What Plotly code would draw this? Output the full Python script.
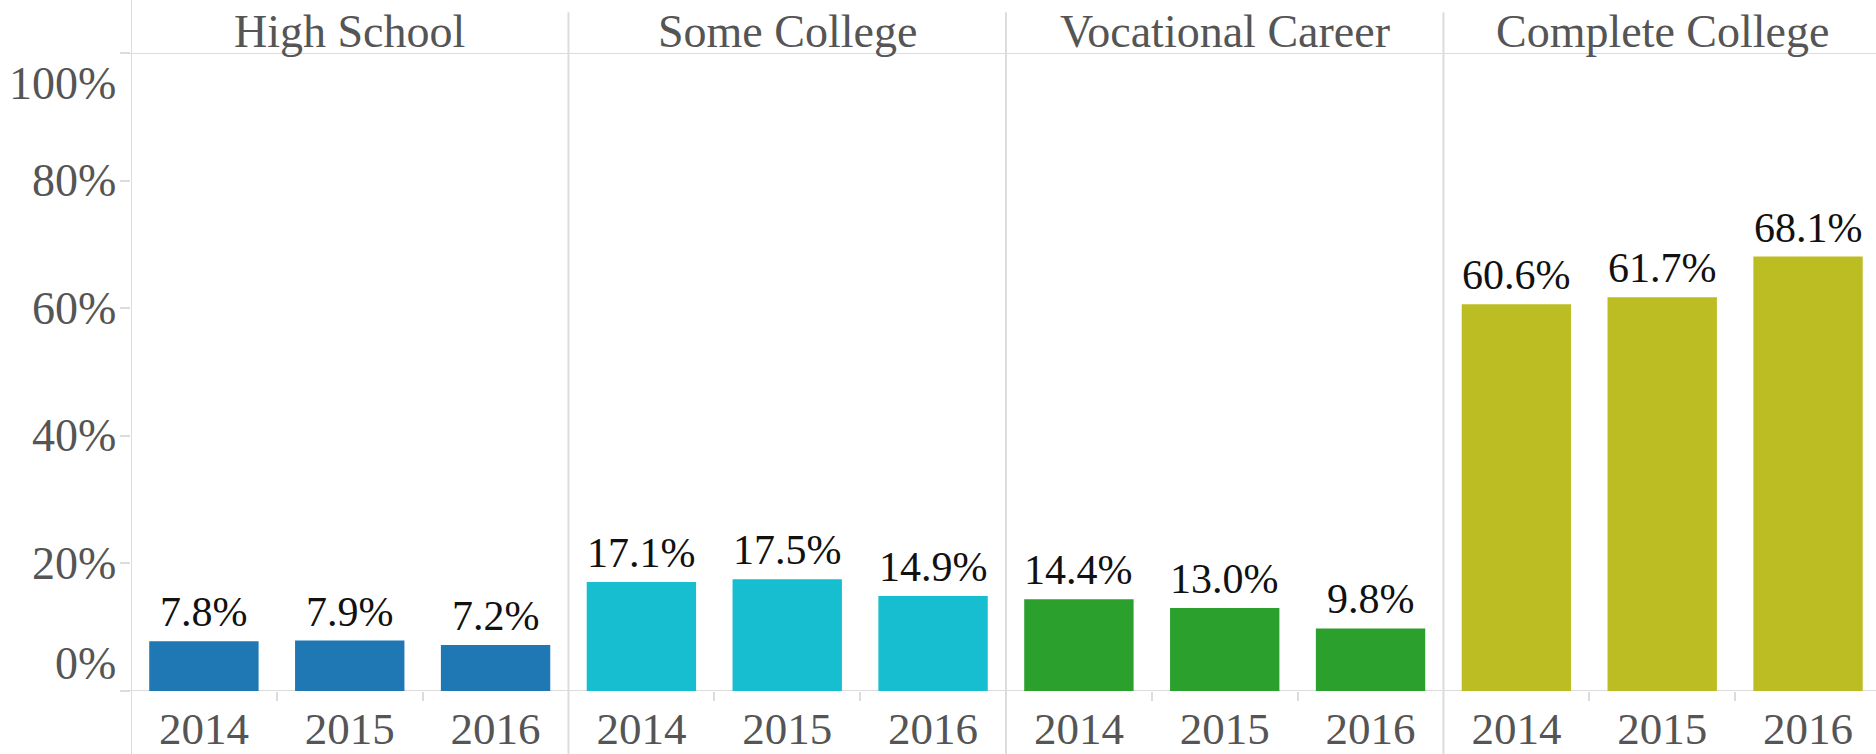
import plotly.graph_objects as go

groups = ["High School", "Some College", "Vocational Career", "Complete College"]
years = ["2014", "2015", "2016"]
values = {
    "High School": [7.8, 7.9, 7.2],
    "Some College": [17.1, 17.5, 14.9],
    "Vocational Career": [14.4, 13.0, 9.8],
    "Complete College": [60.6, 61.7, 68.1],
}
colors = {
    "High School": "#1f77b4",
    "Some College": "#17becf",
    "Vocational Career": "#2ca02c",
    "Complete College": "#bcbd22",
}
y_ticks = [0, 20, 40, 60, 80, 100]
y_tick_labels = ["0%", "20%", "40%", "60%", "80%", "100%"]

FONT = "Liberation Serif"
GRAY = "#555555"
LINE = "#dcdcdc"

fig = go.Figure()
xs_all, xt_all = [], []
for gi, g in enumerate(groups):
    xs = [gi * 3 + k for k in range(3)]
    xs_all += xs
    xt_all += years
    fig.add_trace(go.Bar(
        x=xs, y=values[g], marker=dict(color=colors[g], line=dict(width=0)),
        width=0.75, showlegend=False, hoverinfo="skip",
    ))
    for x, v in zip(xs, values[g]):
        fig.add_annotation(x=x, xref="x", y=v, yref="y", yanchor="bottom", yshift=4,
                           text=f"{v:.1f}%", showarrow=False,
                           font=dict(family=FONT, size=42, color="#111111"))
    fig.add_annotation(x=gi * 3 + 1, xref="x", y=1, yref="paper",
                       text=g, showarrow=False, yanchor="middle", yshift=22,
                       font=dict(family=FONT, size=46, color=GRAY))

# panel separators (full height)
for b in range(1, len(groups)):
    fig.add_shape(type="line", xref="x", yref="paper", x0=b * 3 - 0.5, x1=b * 3 - 0.5,
                  y0=-0.1, y1=1.064, line=dict(color=LINE, width=2), layer="below")
# left axis line
fig.add_shape(type="line", xref="x", yref="paper", x0=-0.5, x1=-0.5,
              y0=-0.1, y1=1.1, line=dict(color=LINE, width=2), layer="below")
# top header line and zero line
for yy in [0, 100]:
    fig.add_shape(type="line", xref="paper", yref="y", x0=-0.006, x1=1, y0=yy, y1=yy,
                  line=dict(color=LINE, width=2), layer="below")

# y tick labels (inner ones at ticks, end ones nudged inward)
for v, lab in zip(y_ticks, y_tick_labels):
    shift = 0
    if v == 0:
        shift = 28
    elif v == 100:
        shift = -30
    fig.add_annotation(x=0, xref="paper", xanchor="right", xshift=-13,
                       y=v, yref="y", yanchor="middle", yshift=shift,
                       text=lab, showarrow=False,
                       font=dict(family=FONT, size=46, color=GRAY))

minor_vals = [g * 3 + k + 0.5 for g in range(len(groups)) for k in range(2)]

fig.update_layout(
    width=1876, height=754,
    margin=dict(l=131, r=0, t=53, b=60),
    plot_bgcolor="white", paper_bgcolor="white",
    bargap=0.25,
    xaxis=dict(
        range=[-0.5, 11.466], tickmode="array", tickvals=xs_all, ticktext=xt_all,
        showgrid=False, zeroline=False, showline=False, ticks="",
        tickfont=dict(family=FONT, size=45, color=GRAY),
        ticklabelstandoff=7,
        minor=dict(tickmode="array", tickvals=minor_vals, ticks="outside", ticklen=9,
                   tickcolor=LINE, tickwidth=2, showgrid=False),
    ),
    yaxis=dict(
        range=[0, 100], tickmode="array", tickvals=y_ticks, showticklabels=False,
        ticks="outside", ticklen=10, tickcolor=LINE, tickwidth=2,
        showgrid=False, zeroline=False, showline=False,
    ),
)

fig.write_html("out.html")
